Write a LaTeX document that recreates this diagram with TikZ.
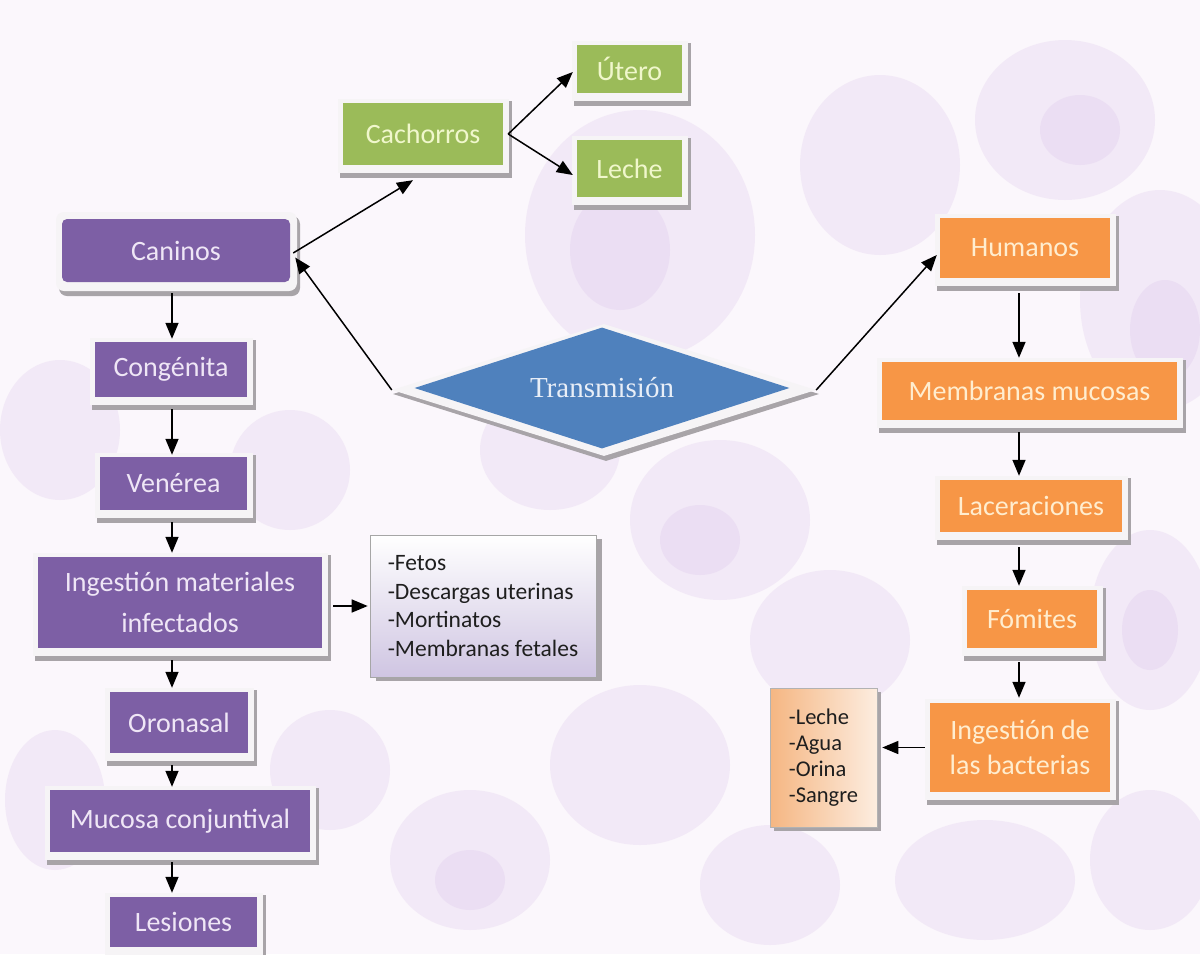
\documentclass[tikz,border=0pt]{standalone}
\usepackage{fontspec}
\setmainfont{Carlito}
\newfontfamily\trfont{Liberation Serif}
\usetikzlibrary{arrows.meta,shapes.geometric}
\definecolor{boxpurple}{HTML}{7D5FA5}
\definecolor{ptext}{HTML}{EFE6F6}
\definecolor{boxgreen}{HTML}{9BBB59}
\definecolor{gtext}{HTML}{F0F7CC}
\definecolor{boxorange}{HTML}{F79646}
\definecolor{otext}{HTML}{FFEDCF}
\definecolor{boxblue}{HTML}{4F81BD}
\definecolor{btext}{HTML}{E8EEF7}
\definecolor{framec}{HTML}{F6F4F6}
\definecolor{shadowc}{HTML}{A8A4A8}
\definecolor{bgbase}{HTML}{FBF7FC}
\definecolor{cellc}{HTML}{E9DAF1}
\definecolor{celld}{HTML}{DCC6EA}
\definecolor{lavlist}{HTML}{CFC5E2}
\definecolor{peach}{HTML}{F5B682}
\definecolor{listtext}{HTML}{1E1E1E}
\newcommand{\mybox}[7]{%
  \fill[shadowc] ({#3-3},{#4-2}) rectangle ({#5+9},{#6+13});
  \fill[framec] ({#3-5},{#4-4}) rectangle ({#5+6},{#6+8});
  \node[#2, minimum width={(#5-#3)*1pt}, minimum height={(#6-#4)*1pt}] (#1) at ({(#3+#5)/2},{(#4+#6)/2}) {#7};
}
\tikzset{
  basebox/.style={inner sep=0pt, align=center, font=\fontsize{28}{41}\selectfont},
  pbox/.style={basebox, fill=boxpurple, text=ptext},
  gbox/.style={basebox, fill=boxgreen, text=gtext},
  obox/.style={basebox, fill=boxorange, text=otext},
  arr/.style={-{Triangle[length=16pt,width=13pt]}, line width=1.5pt, black},
  cell/.style={fill=cellc, opacity=0.45},
  dcell/.style={fill=celld, opacity=0.3}
}
\begin{document}
\begin{tikzpicture}[x=1pt,y=-1pt]
\useasboundingbox (0,0) rectangle (1200,954);
\fill[bgbase] (0,0) rectangle (1200,954);
% faint cell background
\fill[cell] (640,235) ellipse (115 and 125);
\fill[cell] (880,165) ellipse (80 and 90);
\fill[cell] (1065,120) ellipse (90 and 80);
\fill[cell] (1160,300) ellipse (80 and 110);
\fill[cell] (720,520) ellipse (90 and 80);
\fill[cell] (550,450) ellipse (70 and 60);
\fill[cell] (830,640) ellipse (80 and 70);
\fill[cell] (640,765) ellipse (90 and 80);
\fill[cell] (470,860) ellipse (80 and 70);
\fill[cell] (770,885) ellipse (70 and 60);
\fill[cell] (985,880) ellipse (90 and 60);
\fill[cell] (1150,620) ellipse (60 and 90);
\fill[cell] (1150,860) ellipse (60 and 70);
\fill[cell] (60,430) ellipse (60 and 70);
\fill[cell] (290,470) ellipse (60 and 60);
\fill[cell] (55,800) ellipse (50 and 70);
\fill[cell] (330,770) ellipse (60 and 60);
\fill[dcell] (1080,130) ellipse (40 and 35);
\fill[dcell] (1165,330) ellipse (35 and 50);
\fill[dcell] (700,540) ellipse (40 and 35);
\fill[dcell] (620,250) ellipse (50 and 60);
\fill[dcell] (470,880) ellipse (35 and 30);
\fill[dcell] (1150,630) ellipse (28 and 40);

% ---- left column (purple)
\fill[shadowc, rounded corners=8pt] (59,216) rectangle (300,296);
\fill[framec, rounded corners=8pt] (56,212) rectangle (297,291);
\node[pbox, rounded corners=5pt, minimum width=228pt, minimum height=63pt] (caninos) at (176,250.5) {Caninos};
\mybox{congenita}{pbox}{95}{342}{247}{397}{Congénita}
\mybox{venerea}{pbox}{100}{457}{247}{510}{Venérea}
\mybox{ingmat}{pbox}{38}{557}{322}{648}{Ingestión materiales\\infectados}
\mybox{oronasal}{pbox}{110}{692}{248}{753}{Oronasal}
\mybox{mucosa}{pbox}{50}{790}{310}{852}{Mucosa conjuntival}
\mybox{lesiones}{pbox}{110}{897}{257}{947}{Lesiones}

% ---- green
\mybox{cachorros}{gbox}{343}{103}{503}{165}{Cachorros}
\mybox{utero}{gbox}{577}{45}{682}{93}{Útero}
\mybox{leche}{gbox}{577}{140}{682}{197}{Leche}

% ---- right column (orange)
\mybox{humanos}{obox}{940}{218}{1110}{278}{Humanos}
\mybox{membranas}{obox}{882}{362}{1177}{420}{Membranas mucosas}
\mybox{laceraciones}{obox}{940}{480}{1122}{532}{Laceraciones}
\mybox{fomites}{obox}{967}{590}{1097}{648}{Fómites}
\mybox{ingbact}{obox, font=\fontsize{28}{35}\selectfont}{930}{703}{1110}{792}{Ingestión de\\las bacterias}

% ---- lists
\fill[shadowc] (376,539) rectangle (602,681);
\node[draw=gray!70, line width=0.6pt, top color=white, bottom color=lavlist, inner sep=0pt,
      minimum width=226pt, minimum height=142pt, align=left, text=listtext,
      font=\fontsize{23.5}{28.5}\selectfont] (fetos) at (483,606)
      {-Fetos\\-Descargas uterinas\\-Mortinatos\\-Membranas fetales};
\fill[shadowc] (774,692) rectangle (881,831);
\node[draw=gray!60, line width=0.6pt, left color=peach, right color=peach!25!white, inner sep=0pt,
      minimum width=107pt, minimum height=139pt, align=left, text=listtext,
      font=\fontsize{22.5}{26}\selectfont] (blist) at (823.5,757.5)
      {-Leche\\-Agua\\-Orina\\-Sangre};

% ---- diamond
\node[diamond, fill=shadowc, minimum width=426pt, minimum height=134pt, inner sep=0pt] (transS) at (606,394) {};
\node[diamond, fill=framec, minimum width=424pt, minimum height=132pt, inner sep=0pt] (transF) at (604,390) {};
\node[diamond, shape aspect=3.1, fill=boxblue, minimum width=375pt, minimum height=121pt, inner sep=0pt,
      text=btext, font=\trfont\fontsize{29}{34}\selectfont] (trans) at (602,388) {Transmisión};

% ---- connectors
\coordinate (lx) at (172,0);
\coordinate (rx) at (1019,0);
\draw[arr, shorten <=11pt, shorten >=3pt] (caninos.south -| lx) -- (congenita.north -| lx);
\draw[arr, shorten <=12pt, shorten >=2pt] (congenita.south -| lx) -- (venerea.north -| lx);
\draw[arr, shorten <=12pt, shorten >=4pt] (venerea.south -| lx) -- (ingmat.north -| lx);
\draw[arr, shorten <=12pt, shorten >=4pt] (ingmat.south -| lx) -- (oronasal.north -| lx);
\draw[arr, shorten <=12pt, shorten >=3pt] (oronasal.south -| lx) -- (mucosa.north -| lx);
\draw[arr, shorten <=10pt, shorten >=4pt] (mucosa.south -| lx) -- (lesiones.north -| lx);

\draw[arr, shorten <=15pt, shorten >=4pt] (humanos.south -| rx) -- (membranas.north -| rx);
\draw[arr, shorten <=12pt, shorten >=4pt] (membranas.south -| rx) -- (laceraciones.north -| rx);
\draw[arr, shorten <=15pt, shorten >=4pt] (laceraciones.south -| rx) -- (fomites.north -| rx);
\draw[arr, shorten <=14pt, shorten >=5pt] (fomites.south -| rx) -- (ingbact.north -| rx);

\draw[arr, shorten <=11pt, shorten >=2pt] (ingmat.east |- fetos.west) -- (fetos.west);
\draw[arr, shorten <=5pt, shorten >=5pt] (ingbact.west) -- (ingbact.west -| blist.east);

\draw[arr] ([xshift=3pt,yshift=-2.5pt]caninos.east) -- ([xshift=-10pt,yshift=-15pt]cachorros.south);
\draw[arr] ([xshift=5pt]cachorros.east) -- ([xshift=-4pt,yshift=-3pt]utero.west);
\draw[arr] ([xshift=5pt]cachorros.east) -- ([xshift=-4pt,yshift=-6.5pt]leche.west);
\draw[arr] (transF.west) -- ([xshift=5pt,yshift=-7pt]caninos.east);
\draw[arr] (transF.east) -- ([xshift=-3pt,yshift=-7pt]humanos.west);
\end{tikzpicture}
\end{document}
